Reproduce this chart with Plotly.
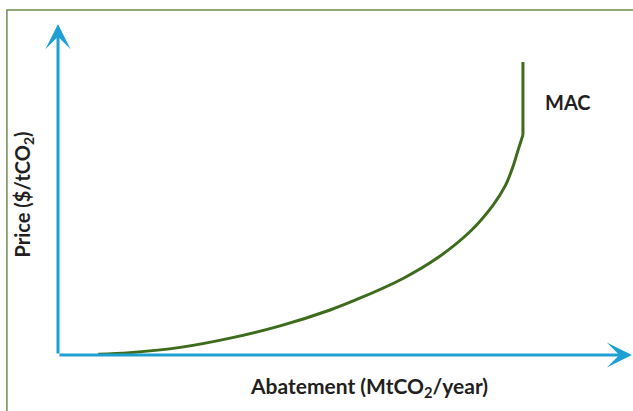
import plotly.graph_objects as go

# MAC curve (abstract units: abatement 0-100, price 0-100)
curve_x = [7.0, 12.5, 21.3, 30.0, 38.7, 47.4, 53.2, 60.2, 66.0, 71.8, 75.8, 78.0, 79.3, 80.1, 81.0]
curve_y = [0.2, 0.7, 2.3, 5.1, 8.8, 13.6, 17.6, 23.2, 29.2, 37.3, 45.3, 51.4, 57.1, 61.6, 66.5]
vert_x = [81.0, 81.0]
vert_y = [66.5, 88.5]

curve_label = "MAC"
x_title = "Abatement (MtCO<sub>2</sub>/year)"
y_title = "Price ($/tCO<sub>2</sub>)"

GREEN = "#3f6b1c"
BLUE = "#1ea0d2"
TEXT = "#231f20"
FONT = "Lato"

fig = go.Figure()
fig.add_trace(go.Scatter(x=curve_x, y=curve_y, mode="lines",
                         line=dict(color=GREEN, width=3, shape="spline", smoothing=1.0),
                         hoverinfo="skip", showlegend=False))
fig.add_trace(go.Scatter(x=vert_x, y=vert_y, mode="lines",
                         line=dict(color=GREEN, width=3),
                         hoverinfo="skip", showlegend=False))

# Axis arrows
fig.add_annotation(x=0, y=100, ax=0, ay=0, xref="x", yref="y", axref="x", ayref="y",
                   showarrow=True, arrowhead=3, arrowsize=1.4, arrowwidth=3,
                   arrowcolor=BLUE, text="")
fig.add_annotation(x=100, y=0, ax=0, ay=0, xref="x", yref="y", axref="x", ayref="y",
                   showarrow=True, arrowhead=3, arrowsize=1.4, arrowwidth=3,
                   arrowcolor=BLUE, text="")

# Labels
fig.add_annotation(x=0.845, y=0.765, xref="paper", yref="paper", text=curve_label,
                   showarrow=False, xanchor="left", yanchor="middle",
                   font=dict(family=FONT, size=20, color=TEXT, weight="bold"))
fig.add_annotation(x=0.542, y=-0.097, xref="paper", yref="paper", text=x_title,
                   showarrow=False, xanchor="center", yanchor="middle",
                   font=dict(family=FONT, size=21, color=TEXT, weight="bold"))
fig.add_annotation(x=-0.061, y=0.485, xref="paper", yref="paper", text=y_title,
                   showarrow=False, xanchor="center", yanchor="middle", textangle=-90,
                   font=dict(family=FONT, size=20, color=TEXT, weight="bold"))

# Frame border
fig.add_shape(type="rect", xref="paper", yref="paper", x0=-0.089, y0=-0.5, x1=1.5, y1=1.042,
              line=dict(color="#6e8b4e", width=1.5), fillcolor="rgba(0,0,0,0)", layer="below")

fig.update_xaxes(range=[0, 100], visible=False, fixedrange=True)
fig.update_yaxes(range=[0, 100], visible=False, fixedrange=True)
fig.update_layout(width=633, height=411,
                  margin=dict(l=58, r=1, t=24, b=56, autoexpand=False),
                  paper_bgcolor="white", plot_bgcolor="white", showlegend=False)

fig.write_html("out.html", config={"displayModeBar": False},
               post_script="document.body.style.margin='0';document.body.style.overflow='hidden';")
